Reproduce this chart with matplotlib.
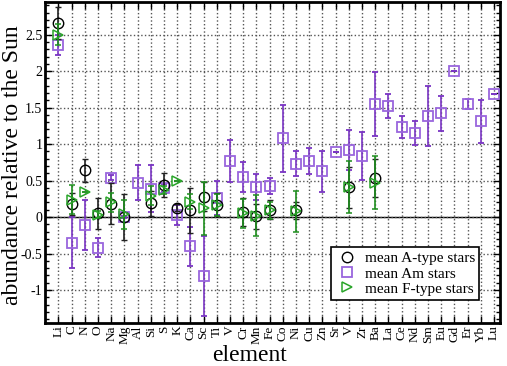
import numpy as np
import matplotlib
matplotlib.use('Agg')
import matplotlib.pyplot as plt
from matplotlib.ticker import MultipleLocator, FuncFormatter

plt.rcParams['font.family'] = ['Liberation Serif', 'DejaVu Serif']

nan = np.nan

elements = ['Li', 'C', 'N', 'O', 'Na', 'Mg', 'Al', 'Si', 'S', 'K', 'Ca', 'Sc', 'Ti', 'V',
            'Cr', 'Mn', 'Fe', 'Co', 'Ni', 'Cu', 'Zn', 'Sr', 'V', 'Zr', 'Ba', 'La', 'Ce',
            'Nd', 'Sm', 'Eu', 'Gd', 'Er', 'Yb', 'Lu']

# mean A-type stars
a_val = [2.66, 0.18, 0.64, 0.05, 0.18, 0.00, nan, 0.19, 0.44, 0.13, 0.09, 0.28, 0.17, nan,
         0.07, 0.01, 0.10, nan, 0.09, nan, nan, nan, 0.41, nan, 0.53, nan, nan,
         nan, nan, nan, nan, nan, nan, nan]
a_err = [0.22, 0.15, 0.16, 0.21, 0.28, 0.31, nan, 0.17, 0.16, 0.05, 0.31, 0.20, 0.16, nan,
         0.19, 0.17, 0.13, nan, 0.12, nan, nan, nan, 0.28, nan, 0.26, nan, nan,
         nan, nan, nan, nan, nan, nan, nan]

# mean Am stars
am_val = [2.36, -0.35, -0.11, -0.42, 0.54, 0.00, 0.47, 0.39, 0.40, 0.03, -0.40, -0.81, 0.26, 0.77,
          0.55, 0.41, 0.43, 1.08, 0.73, 0.77, 0.63, 0.89, 0.92, 0.84, 1.55, 1.52, 1.23,
          1.15, 1.39, 1.42, 2.00, 1.55, 1.31, 1.69]
am_err = [0.14, 0.35, 0.34, 0.13, 0.03, 0.02, 0.24, 0.32, 0.05, 0.14, 0.27, 0.55, 0.23, 0.29,
          0.20, 0.18, 0.11, 0.46, 0.17, 0.18, 0.28, 0.0, 0.27, 0.33, 0.44, 0.16, 0.15,
          0.16, 0.41, 0.24, 0.0, 0.07, 0.29, 0.0]

# mean F-type stars
f_val = [2.50, 0.24, 0.34, 0.03, 0.20, 0.04, nan, 0.29, 0.37, 0.50, 0.21, 0.12, 0.16, nan,
         0.05, 0.02, 0.09, nan, 0.08, nan, nan, nan, 0.41, nan, 0.47, nan, nan,
         nan, nan, nan, nan, nan, nan, nan]
f_err = [0.14, 0.20, 0.0, 0.05, 0.13, 0.20, nan, 0.13, 0.05, 0.0, 0.10, 0.36, 0.15, nan,
         0.20, 0.28, 0.12, nan, 0.28, nan, nan, nan, 0.36, nan, 0.36, nan, nan,
         nan, nan, nan, nan, nan, nan, nan]

x = np.arange(len(elements))

fig = plt.figure(figsize=(5.07, 3.66), dpi=100)
ax = fig.add_axes([0.089, 0.118, 0.897, 0.877])

purple = '#7a35c4'
green = '#1f8f1f'

ax.axhline(0, color='black', lw=1.0, zorder=1)

ax.errorbar(x, am_val, yerr=am_err, fmt='s', ms=7, mfc='none', mec='#9a66dd', mew=1.3,
            ecolor=purple, elinewidth=1.2, capsize=2.2, capthick=1.1, label='mean Am stars', zorder=3)
ax.errorbar(x, a_val, yerr=a_err, fmt='o', ms=7.5, mfc='none', mec='black', mew=1.0,
            ecolor='#222222', elinewidth=1.2, capsize=2.2, capthick=1.1, label='mean A-type stars', zorder=4)
ax.errorbar(x, f_val, yerr=f_err, fmt='>', ms=7, mfc='none', mec='#2aa52a', mew=1.1,
            ecolor=green, elinewidth=1.2, capsize=2.2, capthick=1.1, label='mean F-type stars', zorder=5)

ax.set_xlim(-1, 33.45)
ax.set_ylim(-1.45, 2.95)

ax.set_xticks(x)
ax.set_xticklabels(elements, rotation=90, fontsize=9.5)
ax.yaxis.set_major_locator(MultipleLocator(0.5))
ax.yaxis.set_minor_locator(MultipleLocator(0.1))
ax.yaxis.set_major_formatter(FuncFormatter(lambda v, p: '%g' % round(v, 2)))
ax.tick_params(axis='y', labelsize=10)
ax.tick_params(which='both', direction='in', top=True, right=True)
ax.tick_params(which='major', length=5, width=1, pad=2)
ax.tick_params(which='minor', length=3, width=1)

ax.grid(True, which='major', linestyle=':', color='#555555', lw=1.0, zorder=0)

for s in ax.spines.values():
    s.set_linewidth(2)

fig.text(0.493, 0.03, 'element', fontsize=17, ha='center', va='center')
fig.text(0.024, 0.55, 'abundance relative to the Sun', fontsize=17, rotation=90,
         ha='center', va='center')

handles, labels = ax.get_legend_handles_labels()
order = [1, 0, 2]
leg = ax.legend([handles[i][0] for i in order], [labels[i] for i in order],
                loc='lower right', bbox_to_anchor=(0.955, 0.07), fontsize=11,
                fancybox=False, framealpha=1, edgecolor='black', borderaxespad=0,
                handletextpad=0.4, labelspacing=0.1, borderpad=0.3, handlelength=1.5)
leg.get_frame().set_linewidth(1.2)

fig.savefig('out.png', dpi=100)
